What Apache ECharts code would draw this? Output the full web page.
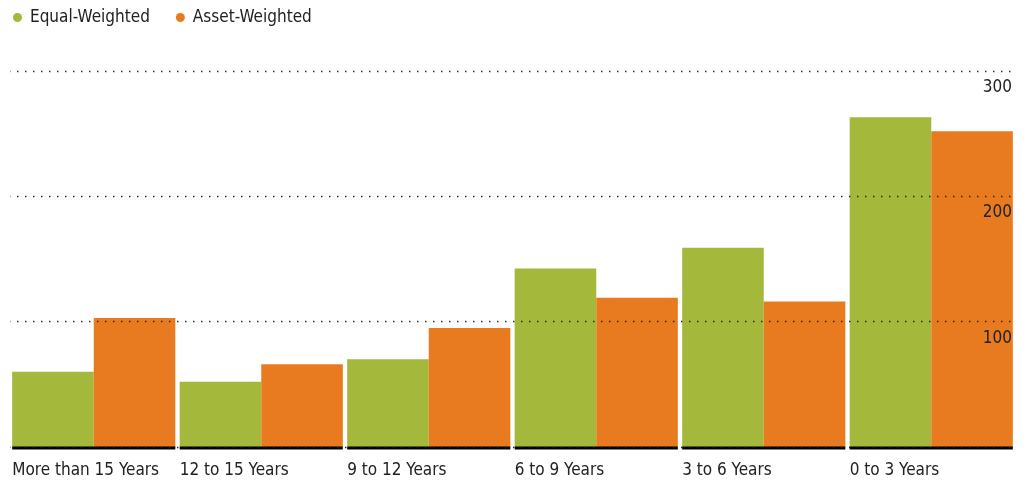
<!DOCTYPE html>
<html>
<head>
<meta charset="utf-8">
<script src="https://cdn.jsdelivr.net/npm/echarts@6/dist/echarts.min.js"></script>
<style>
  html, body { margin: 0; padding: 0; background: #fff; }
  #chart { width: 1026px; height: 482px; }
</style>
</head>
<body>
<div id="chart"></div>
<script>
// datos
const categorias = ['More than 15 Years', '12 to 15 Years', '9 to 12 Years', '6 to 9 Years', '3 to 6 Years', '0 to 3 Years'];
const equalWeighted = [60, 52, 70, 142.5, 159, 263];
const assetWeighted = [103, 66, 95, 119, 116, 252];
const ticksY = [0, 100, 200, 300];

const FUENTE = "'DejaVu Sans Condensed', Roboto, sans-serif";
const TAM = 17;
const VERDE = '#a4b83c';
const NARANJA = '#e87b1f';
const TEXTO = '#222';

const chart = echarts.init(document.getElementById('chart'));

// linea base negra, un tramo por categoria
function lineaBase(params, api) {
    const centro = api.coord([api.value(0), 0]);
    const banda = api.size([1, 0])[0];
    const hueco = banda * 0.026;
    return {
        type: 'rect',
        shape: { x: centro[0] - banda / 2 + hueco / 2, y: centro[1] - 0.5, width: banda - hueco, height: 3 },
        style: { fill: '#000' }
    };
}

chart.setOption({
    animation: false,
    textStyle: { fontFamily: FUENTE },
    legend: {
        data: ['Equal-Weighted', 'Asset-Weighted'],
        left: 13, top: 9, padding: 0,
        icon: 'circle', itemWidth: 9, itemHeight: 9, itemGap: 26,
        textStyle: { fontFamily: FUENTE, fontSize: TAM, color: TEXTO, padding: [0, 0, 0, 3] }
    },
    grid: { left: 10, right: 11, top: 71, bottom: 35, containLabel: false },
    xAxis: {
        type: 'category',
        data: categorias,
        axisLine: { show: false },
        axisTick: { show: false },
        axisLabel: {
            margin: 15,
            formatter: v => '{a|' + v + '}',
            rich: { a: { width: 163, align: 'left', fontFamily: FUENTE, fontSize: TAM, color: TEXTO } }
        }
    },
    yAxis: {
        type: 'value',
        position: 'right',
        min: ticksY[0], max: ticksY[ticksY.length - 1], interval: 100,
        z: 10,
        axisLine: { show: false },
        axisTick: { show: false },
        axisLabel: {
            inside: true, margin: 3,
            verticalAlign: 'top', padding: [8, 0, 0, 0],
            fontFamily: FUENTE, fontSize: TAM, color: TEXTO,
            formatter: v => v === 0 ? '' : String(v)
        },
        splitLine: {
            show: true,
            lineStyle: { color: '#222', width: 1.4, type: [1.4, 6.6], dashOffset: 1 }
        }
    },
    series: [
        {
            name: 'Equal-Weighted', type: 'bar', data: equalWeighted,
            itemStyle: { color: VERDE }, barGap: '0%', barCategoryGap: '2.6%'
        },
        {
            name: 'Asset-Weighted', type: 'bar', data: assetWeighted,
            itemStyle: { color: NARANJA }
        },
        {
            type: 'custom', z: 5, silent: true,
            renderItem: lineaBase,
            data: categorias.map((c, i) => [i, 0])
        }
    ]
});
</script>
</body>
</html>
